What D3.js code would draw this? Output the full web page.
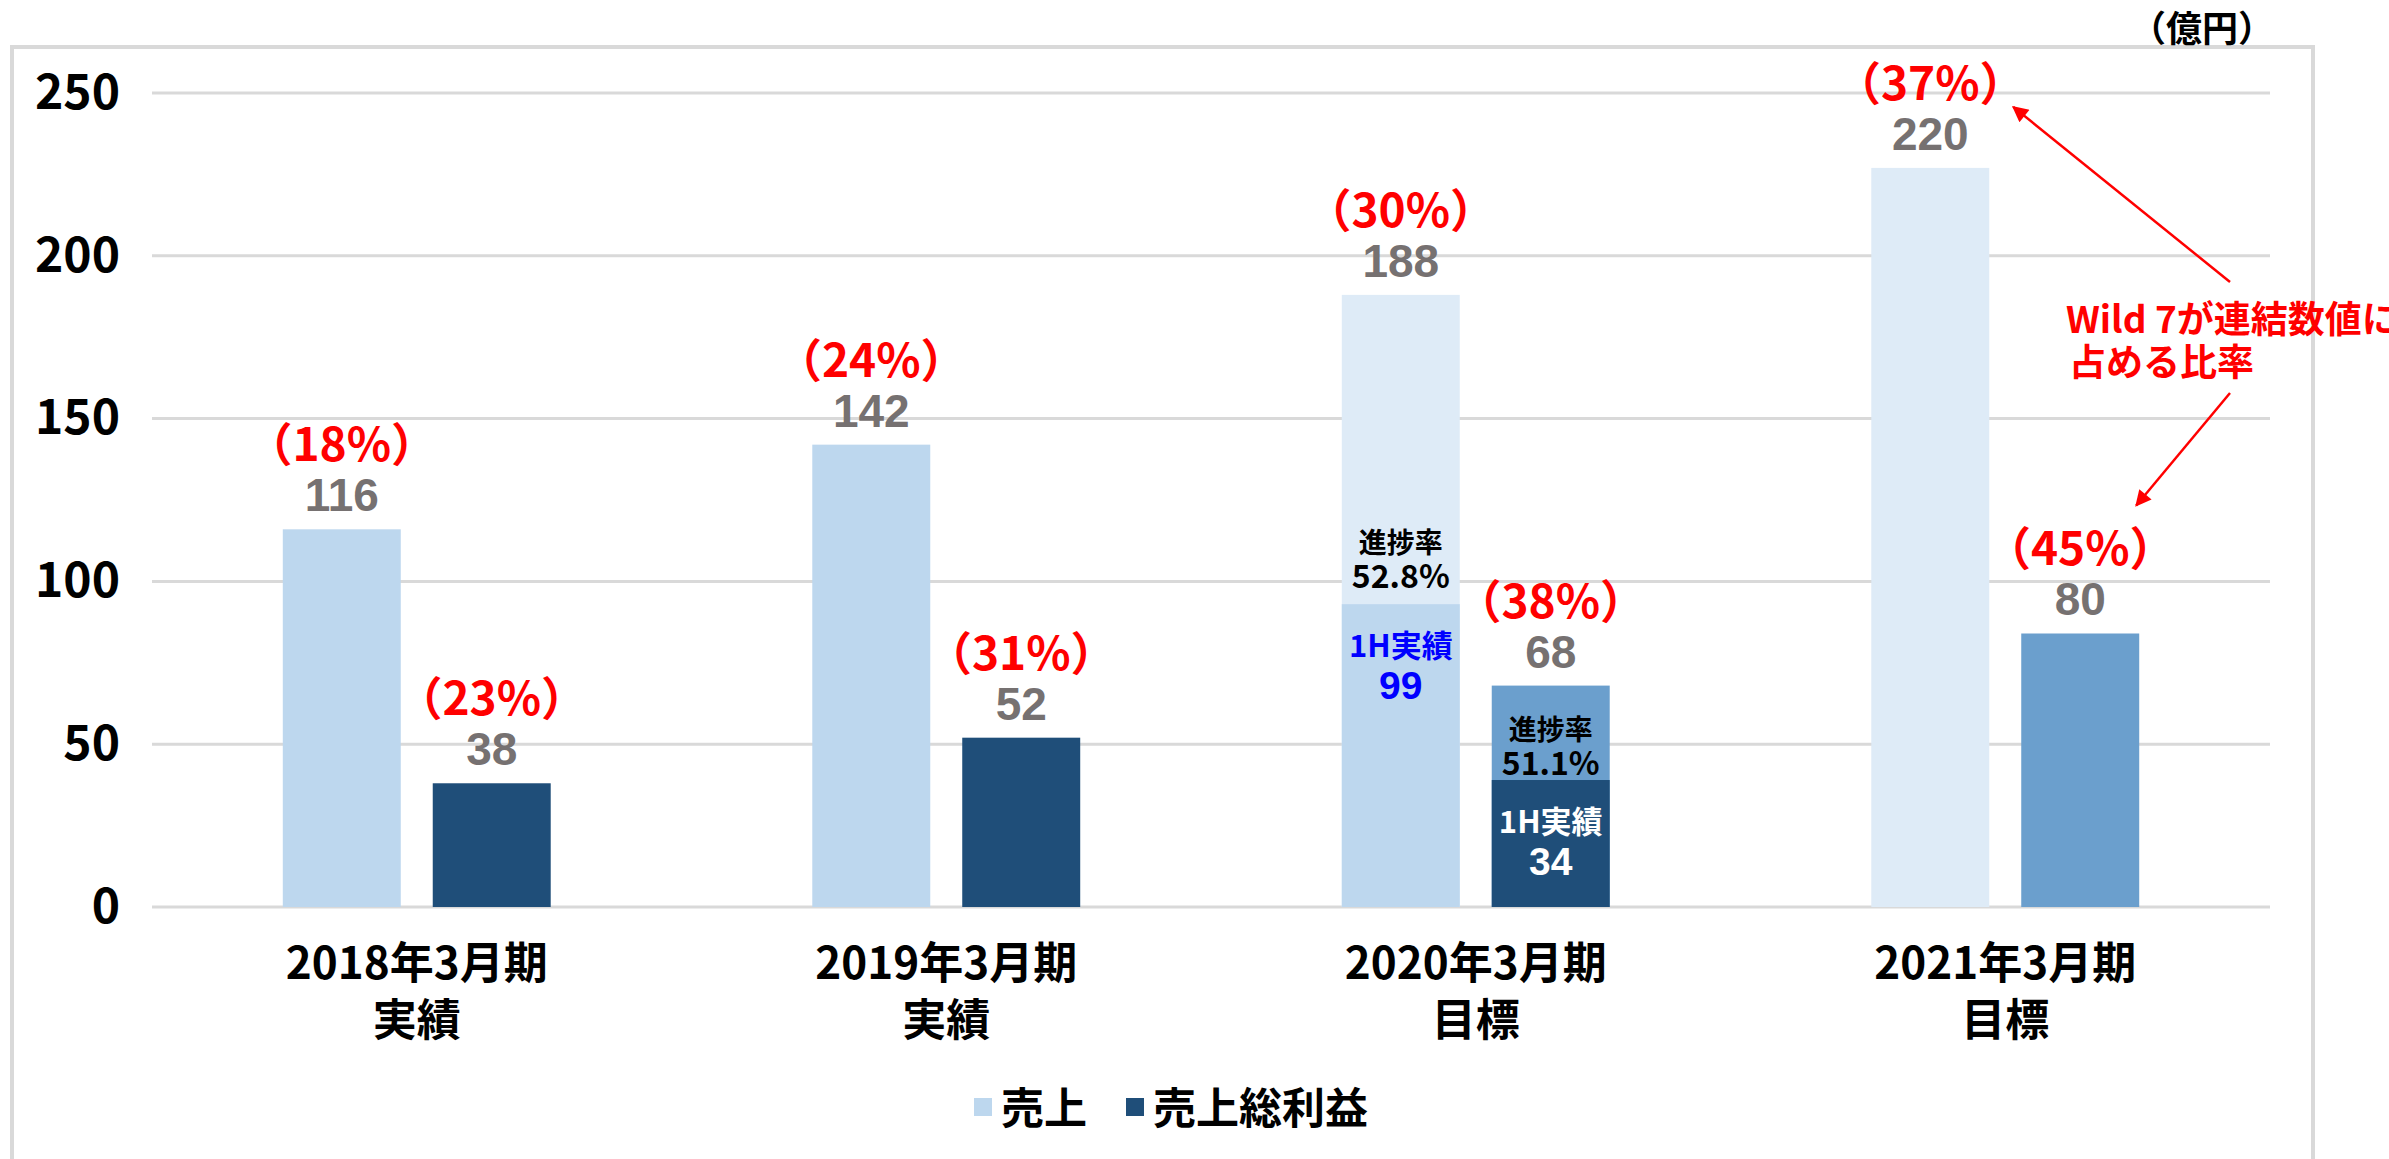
<!DOCTYPE html>
<html>
<head>
<meta charset="utf-8">
<script src="https://cdn.jsdelivr.net/npm/d3@7"></script>
<style>
  html, body { margin: 0; padding: 0; background: #fff; }
  svg { display: block; font-family: "Noto Sans CJK JP", "Noto Sans", sans-serif; font-weight: bold; }
  .num { font-family: "Liberation Sans", "Noto Sans CJK JP", sans-serif; }
</style>
</head>
<body>
<svg id="chart"></svg>
<script>
const categories = ["2018年3月期", "2019年3月期", "2020年3月期", "2021年3月期"];
const categorySub = ["実績", "実績", "目標", "目標"];
const isTarget = [false, false, true, true];

// bar heights as drawn in the picture, labels as printed
const salesValues = [116, 142, 188, 227];
const profitValues = [38, 52, 68, 84];
const salesLabels = ["116", "142", "188", "220"];
const profitLabels = ["38", "52", "68", "80"];
const salesShare = ["（18%）", "（24%）", "（30%）", "（37%）"];
const profitShare = ["（23%）", "（31%）", "（38%）", "（45%）"];

// first-half actuals inside the 2020 target bars
const salesHalf = [null, null, 93, null];
const profitHalf = [null, null, 39, null];
const salesHalfLabels = [null, null, "99", null];
const profitHalfLabels = [null, null, "34", null];
const salesProgress = [null, null, "52.8%", null];
const profitProgress = [null, null, "51.1%", null];

const yTicks = [0, 50, 100, 150, 200, 250];
const seriesNames = ["売上", "売上総利益"];

const width = 2389, height = 1159;
const plot = { left: 152, right: 2270, top: 93, bottom: 907 };

const svg = d3.select("#chart")
    .attr("width", width)
    .attr("height", height);

svg.append("rect")
    .attr("width", width).attr("height", height)
    .attr("fill", "#fff");

// outer frame
svg.append("rect")
    .attr("x", 12).attr("y", 47)
    .attr("width", 2301).attr("height", 1200)
    .attr("fill", "none")
    .attr("stroke", "#d9d9d9")
    .attr("stroke-width", 4);

svg.append("text")
    .attr("x", 2202).attr("y", 42)
    .attr("text-anchor", "middle")
    .attr("font-size", 36)
    .attr("fill", "#000")
    .text("（億円）");

const y = d3.scaleLinear()
    .domain([0, 250])
    .range([plot.bottom, plot.top]);

const x0 = d3.scaleBand()
    .domain(categories)
    .range([plot.left, plot.right]);

const groupW = x0.bandwidth() * 0.506;
const x1 = d3.scaleBand()
    .domain(seriesNames)
    .range([-groupW / 2, groupW / 2])
    .paddingInner(0.2133);

const colors = {
    actual: { "売上": "#bdd7ee", "売上総利益": "#1f4e79" },
    target: { "売上": "#deebf7", "売上総利益": "#6b9fcd" }
};

// gridlines
svg.append("g")
    .selectAll("line")
    .data(yTicks)
    .join("line")
    .attr("x1", plot.left).attr("x2", plot.right)
    .attr("y1", d => y(d)).attr("y2", d => y(d))
    .attr("stroke", "#d9d9d9")
    .attr("stroke-width", 3);

const yAxis = svg.append("g")
    .attr("transform", `translate(${plot.left},0)`)
    .call(d3.axisLeft(y).tickValues(yTicks).tickSize(0).tickPadding(32));
yAxis.select(".domain").remove();
yAxis.selectAll("text")
    .attr("font-family", "\"Noto Sans CJK JP\", sans-serif")
    .attr("font-weight", "bold")
    .attr("font-size", 48)
    .attr("fill", "#000");

const rows = categories.map((c, i) => ({
    cat: c, i,
    bars: [
        { key: "売上", value: salesValues[i], label: salesLabels[i], share: salesShare[i],
          half: salesHalf[i], halfLabel: salesHalfLabels[i], progress: salesProgress[i] },
        { key: "売上総利益", value: profitValues[i], label: profitLabels[i], share: profitShare[i],
          half: profitHalf[i], halfLabel: profitHalfLabels[i], progress: profitProgress[i] }
    ]
}));

const groups = svg.append("g")
    .selectAll("g")
    .data(rows)
    .join("g")
    .attr("transform", d => `translate(${x0(d.cat) + x0.bandwidth() / 2},0)`);

const bars = groups.selectAll("g.bar")
    .data(d => d.bars.map(b => ({ ...b, target: isTarget[d.i] })))
    .join("g")
    .attr("class", "bar");

bars.append("rect")
    .attr("x", d => x1(d.key))
    .attr("width", x1.bandwidth())
    .attr("y", d => y(d.value))
    .attr("height", d => y(0) - y(d.value))
    .attr("fill", d => d.target ? colors.target[d.key] : colors.actual[d.key]);

bars.filter(d => d.half != null)
    .append("rect")
    .attr("x", d => x1(d.key))
    .attr("width", x1.bandwidth())
    .attr("y", d => y(d.half))
    .attr("height", d => y(0) - y(d.half))
    .attr("fill", d => colors.actual[d.key]);

const cx = d => x1(d.key) + x1.bandwidth() / 2;

bars.append("text")
    .attr("class", "num")
    .attr("x", cx)
    .attr("y", d => y(d.value) - 18)
    .attr("text-anchor", "middle")
    .attr("font-size", 46)
    .attr("fill", "#767171")
    .text(d => d.label);

bars.append("text")
    .attr("x", cx)
    .attr("y", d => y(d.value) - 68)
    .attr("text-anchor", "middle")
    .attr("font-size", 46)
    .attr("fill", "#ff0000")
    .text(d => d.share);

// progress labels inside the 2020 bars
const halfBars = bars.filter(d => d.half != null);
halfBars.append("text")
    .attr("x", cx)
    .attr("y", d => y(d.half) - (d.key === "売上" ? 51 : 40))
    .attr("text-anchor", "middle")
    .attr("font-size", 28)
    .attr("fill", "#000")
    .text("進捗率");
halfBars.append("text")
    .attr("x", cx)
    .attr("y", d => y(d.half) - (d.key === "売上" ? 16 : 5))
    .attr("text-anchor", "middle")
    .attr("font-size", 32)
    .attr("fill", "#000")
    .text(d => d.progress);
halfBars.append("text")
    .attr("x", cx)
    .attr("y", d => y(d.half) + 53)
    .attr("text-anchor", "middle")
    .attr("font-size", 31)
    .attr("fill", d => d.key === "売上" ? "#0000ff" : "#fff")
    .text("1H実績");
halfBars.append("text")
    .attr("class", "num")
    .attr("x", cx)
    .attr("y", d => y(d.half) + 95)
    .attr("text-anchor", "middle")
    .attr("font-size", 39)
    .attr("fill", d => d.key === "売上" ? "#0000ff" : "#fff")
    .text(d => d.halfLabel);

// category labels
const catLabels = svg.append("g")
    .selectAll("text")
    .data(categories)
    .join("text")
    .attr("x", d => x0(d) + x0.bandwidth() / 2)
    .attr("text-anchor", "middle")
    .attr("font-size", 44)
    .attr("fill", "#000");
catLabels.append("tspan")
    .attr("x", d => x0(d) + x0.bandwidth() / 2)
    .attr("y", 979)
    .text(d => d);
catLabels.append("tspan")
    .attr("x", d => x0(d) + x0.bandwidth() / 2)
    .attr("y", 1036)
    .text((d, i) => categorySub[i]);

// legend
const legend = svg.append("g")
    .selectAll("g")
    .data(seriesNames)
    .join("g")
    .attr("transform", (d, i) => `translate(${i === 0 ? 974 : 1126},0)`);
legend.append("rect")
    .attr("y", 1098)
    .attr("width", 18).attr("height", 18)
    .attr("fill", d => colors.actual[d]);
legend.append("text")
    .attr("x", 27)
    .attr("y", 1124)
    .attr("font-size", 43)
    .attr("fill", "#000")
    .text(d => d);

// annotation
const defs = svg.append("defs");
defs.append("marker")
    .attr("id", "arrow")
    .attr("viewBox", "0 0 10 10")
    .attr("refX", 9).attr("refY", 5)
    .attr("markerWidth", 22).attr("markerHeight", 16)
    .attr("markerUnits", "userSpaceOnUse")
    .attr("orient", "auto")
    .append("path")
    .attr("d", "M0,0L10,5L0,10z")
    .attr("fill", "#ff0000");

const note = { x: 2066, y: 333 };
svg.append("text")
    .attr("x", note.x).attr("y", note.y)
    .attr("font-size", 37)
    .attr("fill", "#ff0000")
    .text("Wild 7が連結数値に");
svg.append("text")
    .attr("x", note.x + 3).attr("y", note.y + 43)
    .attr("font-size", 37)
    .attr("fill", "#ff0000")
    .text("占める比率");

const salesX = x0(categories[3]) + x0.bandwidth() / 2 + x1("売上") + x1.bandwidth();
const profitX = x0(categories[3]) + x0.bandwidth() / 2 + x1("売上総利益") + x1.bandwidth() / 2;
const arrows = [
    { x1: note.x + 164, y1: note.y - 51, x2: salesX + 24, y2: y(salesValues[3]) - 61 },
    { x1: note.x + 164, y1: note.y + 60, x2: profitX + 56, y2: y(profitValues[3]) - 128 }
];
svg.append("g")
    .selectAll("line")
    .data(arrows)
    .join("line")
    .attr("x1", d => d.x1).attr("y1", d => d.y1)
    .attr("x2", d => d.x2).attr("y2", d => d.y2)
    .attr("stroke", "#ff0000")
    .attr("stroke-width", 2.5)
    .attr("marker-end", "url(#arrow)");
</script>
</body>
</html>
